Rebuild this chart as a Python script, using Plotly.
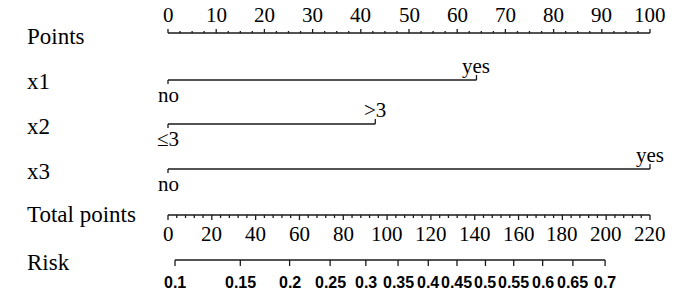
import plotly.graph_objects as go
import numpy as np

# ---------------- data ----------------
points_labels = [0, 10, 20, 30, 40, 50, 60, 70, 80, 90, 100]
total_labels = [0, 20, 40, 60, 80, 100, 120, 140, 160, 180, 200, 220]

x1_levels = ["no", "yes"]
x1_points = [0, 64]
x2_levels = ["≤3", ">3"]
x2_points = [0, 43]
x3_levels = ["no", "yes"]
x3_points = [0, 100]

risk_labels = ["0.1", "0.15", "0.2", "0.25", "0.3", "0.35", "0.4", "0.45",
               "0.5", "0.55", "0.6", "0.65", "0.7"]
risk_total_points = [3.2, 33.0, 55.5, 74.0, 90.3, 105.0, 118.8, 131.9,
                     144.9, 157.8, 171.0, 184.8, 199.5]

row_names = ["Points", "x1", "x2", "x3", "Total points", "Risk"]

# ---------------- layout constants ----------------
W, H = 700, 303
X0_PX, X100_PX = 168, 650
scale = (X100_PX - X0_PX) / 100.0
xrange = [-X0_PX / scale, (W - X0_PX) / scale]
TOTAL_MAX = 220.0
tp = lambda v: v * 100.0 / TOTAL_MAX  # total points -> points scale

Y_POINTS, Y_X1, Y_X2, Y_X3, Y_TOTAL, Y_RISK = 33, 80, 124, 169, 215, 260
label_y = [36, 81, 126, 171, 214, 262]

SERIF = "Liberation Serif, Times New Roman, serif"
SANS = "Liberation Sans, Arial, sans-serif"
LC = "#1a1a1a"
LW = 1.3

fig = go.Figure()
ann = []

def seg(xs, ys):
    fig.add_trace(go.Scatter(x=xs, y=ys, mode="lines",
                             line=dict(color=LC, width=LW),
                             hoverinfo="skip", showlegend=False))

def ticks(vals, y0, y1):
    xs, ys = [], []
    for v in vals:
        xs += [v, v, None]
        ys += [y0, y1, None]
    seg(xs, ys)

# Points axis (ticks up, labels above)
seg([0, 100], [Y_POINTS, Y_POINTS])
ticks(points_labels, Y_POINTS, Y_POINTS - 4)
ticks([v for v in np.arange(0, 100.01, 2.5) if v % 10 != 0], Y_POINTS, Y_POINTS - 2)
for v in points_labels:
    ann.append(dict(x=v, y=Y_POINTS - 18, text=str(v), font=dict(family=SERIF, size=21)))

# categorical variables
def cat_row(levels, pts, y):
    seg([pts[0], pts[-1]], [y, y])
    # left level: tick down, label below; right level: tick up, label above
    seg([pts[0], pts[0]], [y, y + 4])
    seg([pts[-1], pts[-1]], [y, y - 5])
    ann.append(dict(x=pts[0], y=y + 15, text=levels[0], font=dict(family=SERIF, size=21)))
    ann.append(dict(x=pts[-1], y=y - 14, text=levels[-1], font=dict(family=SERIF, size=21)))

cat_row(x1_levels, x1_points, Y_X1)
cat_row(x2_levels, x2_points, Y_X2)
cat_row(x3_levels, x3_points, Y_X3)

# Total points axis (ticks down, labels below)
seg([0, tp(TOTAL_MAX)], [Y_TOTAL, Y_TOTAL])
ticks([tp(v) for v in total_labels], Y_TOTAL, Y_TOTAL + 5)
ticks([tp(v) for v in range(0, 221, 4) if v % 20 != 0], Y_TOTAL, Y_TOTAL + 3)
for v in total_labels:
    ann.append(dict(x=tp(v), y=Y_TOTAL + 19, text=str(v), font=dict(family=SERIF, size=21)))

# Risk axis
rx = [tp(v) for v in risk_total_points]
seg([rx[0], rx[-1]], [Y_RISK, Y_RISK])
ticks(rx, Y_RISK, Y_RISK + 6)
for x, lab in zip(rx, risk_labels):
    ann.append(dict(x=x, y=Y_RISK + 22, text="<b>%s</b>" % lab,
                    font=dict(family=SANS, size=16)))

for a in ann:
    a.update(xref="x", yref="y", showarrow=False, xanchor="center",
             yanchor="middle")
    a["font"]["color"] = "black"

for name, y in zip(row_names, label_y):
    ann.append(dict(x=25 / W, xref="paper", y=y, yref="y", text=name,
                    showarrow=False, xanchor="left", yanchor="middle",
                    font=dict(family=SERIF, size=23, color="black")))

fig.update_layout(
    width=W, height=H,
    margin=dict(l=0, r=0, t=0, b=0),
    paper_bgcolor="white", plot_bgcolor="white",
    xaxis=dict(range=xrange, visible=False, fixedrange=True),
    yaxis=dict(range=[H, 0], visible=False, fixedrange=True),
    annotations=ann,
    showlegend=False,
    hovermode=False,
)

fig.write_html("out.html", config={"displayModeBar": False, "staticPlot": True},
               post_script="document.body.style.margin='0';")
